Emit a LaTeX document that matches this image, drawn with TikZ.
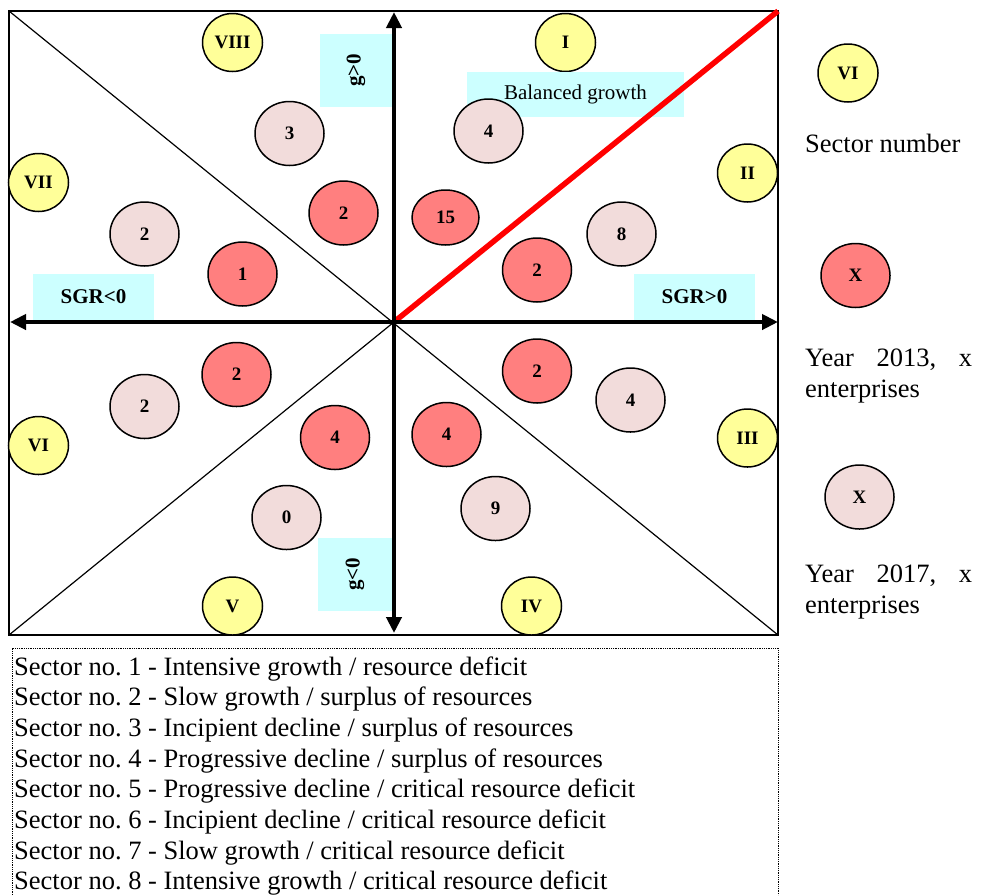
\documentclass[tikz,border=0pt]{standalone}
\usepackage{fontspec}
\setmainfont{Liberation Serif}
\usetikzlibrary{arrows.meta,shapes.geometric}
\definecolor{secyellow}{HTML}{FFFF99}
\definecolor{firmred}{HTML}{FF7F7F}
\definecolor{firmpink}{HTML}{F2DCDB}
\definecolor{zonecyan}{HTML}{CCFFFF}
\tikzset{
	sector/.style={ellipse, draw, line width=1.5pt, fill=secyellow, minimum width=60pt, minimum height=58pt, inner sep=0pt, font=\bfseries\fontsize{19}{19}\selectfont},
	yrold/.style={sector, fill=firmred, minimum width=69pt, minimum height=64pt},
	yrnew/.style={sector, fill=firmpink, minimum width=69pt, minimum height=64pt},
	zone/.style={fill=zonecyan, inner sep=0pt, font=\fontsize{21}{21}\selectfont},
	axis/.style={line width=4.5pt, {Triangle[length=16pt,width=15pt]}-{Triangle[length=16pt,width=15pt]}},
	legtext/.style={anchor=base west, inner sep=0pt, font=\fontsize{26.5}{31}\selectfont},
	keypara/.style={anchor=north west, inner sep=0pt, text width=167pt, align=justify, font=\fontsize{26.5}{31}\selectfont}
}
\begin{document}
\begin{tikzpicture}[x=1pt,y=-1pt]
		%%%%% FRAME %%%%%
		\path[use as bounding box] (0,0) rectangle (981,895);
		
		\coordinate (nw) at (9,11);
		\coordinate (ne) at (778,11);
		\coordinate (sw) at (9,635);
		\coordinate (se) at (778,635);
		\coordinate (o) at (394,322);
		\coordinate (xl) at (10,322);
		\coordinate (xr) at (778,322);
		\coordinate (yt) at (394,12);
		\coordinate (yb) at (394,633);
		
		\draw[line width=2pt] (nw) rectangle (se);
		\draw[line width=1.2pt] (nw) -- (se);
		\draw[line width=1.2pt] (sw) -- (o);
		
		%%%%% ZONES %%%%%
		\node[zone, rotate=90, minimum width=73pt, minimum height=72pt] (gpos) at (356,70.5) {\bfseries g>0};
		\node[zone, rotate=90, minimum width=73pt, minimum height=74pt] (gneg) at (355,574.5) {\bfseries g<0};
		\node[zone, minimum width=121pt, minimum height=46pt] (sgrneg) at (93.5,297) {\bfseries SGR<0};
		\node[zone, minimum width=121pt, minimum height=46pt] (sgrpos) at (694.5,297) {\bfseries SGR>0};
		
		\node[sector] (s1) at (565.5,42.5) {I};
		\node[zone, minimum width=217pt, minimum height=45pt] (bal) at (575.5,94.5) {Balanced growth};
		\node[sector] (s2) at (747.5,173) {II};
		\node[sector] (s3) at (747.5,438) {III};
		\node[sector] (s4) at (531.5,606) {IV};
		\node[sector] (s5) at (232.5,606) {V};
		\node[sector] (s6) at (38.5,445.5) {VI};
		\node[sector] (s7) at (38.5,182.5) {VII};
		\node[sector] (s8) at (232.5,42.5) {VIII};
		
		%%%%% 2013 %%%%%
		\node[yrold] (a1) at (242.5,274) {1};
		\node[yrold] (a2) at (343.5,213) {2};
		\node[yrold, minimum width=67pt, minimum height=55pt] (a3) at (445.5,217.5) {15};
		\node[yrold] (a4) at (537,270) {2};
		\node[yrold] (a5) at (537,371) {2};
		\node[yrold] (a6) at (446.5,434.5) {4};
		\node[yrold] (a7) at (335,437.5) {4};
		\node[yrold] (a8) at (236.5,374.5) {2};
		
		%%%%% 2017 %%%%%
		\node[yrnew] (b1) at (289.5,133.5) {3};
		\node[yrnew] (b2) at (488.5,131) {4};
		\node[yrnew] (b3) at (144.5,234) {2};
		\node[yrnew] (b4) at (621.5,234) {8};
		\node[yrnew] (b5) at (630.5,400) {4};
		\node[yrnew] (b6) at (495.5,508.5) {9};
		\node[yrnew] (b7) at (286.5,517.5) {0};
		\node[yrnew] (b8) at (144.5,406.5) {2};
		
		\draw[red, line width=5.5pt] (o) -- (ne);
		\draw[axis] (xl) -- (xr);
		\draw[axis] (yb) -- (yt);
		
		%%%%% KEY %%%%%
		\node[sector] (ksec) at (848,73) {VI};
		\node[legtext] (ksectxt) at (805,152) {Sector number};
		\node[yrold] (kold) at (855.5,275.5) {X};
		\node[keypara] (koldtxt) at (805,349) {Year\hfill 2013,\hfill x\\enterprises};
		\node[yrnew] (knew) at (859.5,497) {X};
		\node[keypara] (knewtxt) at (805,565) {Year\hfill 2017,\hfill x\\enterprises};
		
		%%%%% LEGEND %%%%%
		\draw[densely dotted, line width=0.8pt] (12,895) -- (12,648) -- (778,648) -- (778,895);
		\foreach \txt [count=\i] in {Intensive growth / resource deficit, Slow growth / surplus of resources, Incipient decline / surplus of resources, Progressive decline / surplus of resources, Progressive decline / critical resource deficit, Incipient decline / critical resource deficit, Slow growth / critical resource deficit, Intensive growth / critical resource deficit}
			\node[legtext] (row\i) at (14,{675+30.7*(\i-1)}) {Sector no.\ \i\ - \txt};
		
		%%%%% END %%%%%
\end{tikzpicture}
\end{document}
